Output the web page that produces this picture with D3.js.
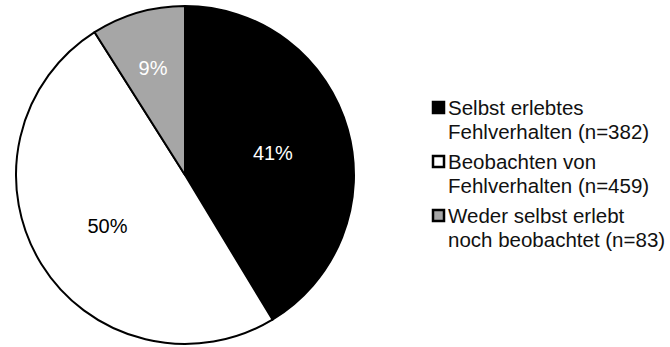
<!DOCTYPE html>
<html>
<head>
<meta charset="utf-8">
<script src="https://cdn.jsdelivr.net/npm/d3@7/dist/d3.min.js"></script>
<style>
  html, body { margin: 0; padding: 0; background: #fff; }
  svg { display: block; }
  text { font-family: "Liberation Sans", Arial, sans-serif; }
</style>
</head>
<body>
<svg id="chart" width="670" height="347"></svg>
<script>
// Survey responses: own experience vs. observation of misconduct
const categories = ["Selbst erlebtes Fehlverhalten", "Beobachten von Fehlverhalten", "Weder selbst erlebt noch beobachtet"];
const counts = [382, 459, 83];
const legendLines = [
  ["Selbst erlebtes", "Fehlverhalten (n=382)"],
  ["Beobachten von", "Fehlverhalten (n=459)"],
  ["Weder selbst erlebt", "noch beobachtet (n=83)"]
];
const fills = ["#000000", "#ffffff", "#a6a6a6"];
const labelColors = ["#ffffff", "#000000", "#ffffff"];

const svg = d3.select("#chart");
const cx = 185, cy = 175, R = 169;
const total = d3.sum(counts);

const pie = d3.pie().sort(null).value(d => d);
const arcs = pie(counts);
const arc = d3.arc().innerRadius(0).outerRadius(R);

const g = svg.append("g").attr("transform", `translate(${cx},${cy})`);

g.selectAll("path.slice")
  .data(arcs)
  .join("path")
  .attr("class", "slice")
  .attr("d", arc)
  .attr("fill", (d, i) => fills[i])
  .attr("stroke", "#000")
  .attr("stroke-width", 2)
  .attr("stroke-linejoin", "round");

// Percentage labels; narrow slices get their label pushed further out
const labelArc = d => {
  const span = d.endAngle - d.startAngle;
  const r = span < 0.8 ? R * 0.68 : R * 0.54;
  return d3.arc().innerRadius(r).outerRadius(r).centroid(d);
};

g.selectAll("text.pct")
  .data(arcs)
  .join("text")
  .attr("class", "pct")
  .attr("x", d => labelArc(d)[0])
  .attr("y", d => labelArc(d)[1] + 3)
  .attr("text-anchor", "middle")
  .attr("dominant-baseline", "central")
  .attr("font-size", 20)
  .attr("fill", (d, i) => labelColors[i])
  .text(d => Math.round(d.value / total * 100) + "%");

// Legend
const legend = svg.append("g").attr("transform", "translate(432,101)");
const item = legend.selectAll("g.item")
  .data(categories)
  .join("g")
  .attr("class", "item")
  .attr("transform", (d, i) => `translate(0,${i * 54})`);

item.append("rect")
  .attr("x", 1).attr("y", 1)
  .attr("width", 11).attr("height", 11)
  .attr("fill", (d, i) => fills[i])
  .attr("stroke", "#000")
  .attr("stroke-width", 2.5);

item.each(function(d, i) {
  const t = d3.select(this).append("text")
    .attr("x", 16)
    .attr("y", 14)
    .attr("font-size", 20.5)
    .attr("fill", "#111");
  legendLines[i].forEach((line, k) => {
    t.append("tspan").attr("x", 16).attr("dy", k === 0 ? 0 : 24).text(line);
  });
});
</script>
</body>
</html>
